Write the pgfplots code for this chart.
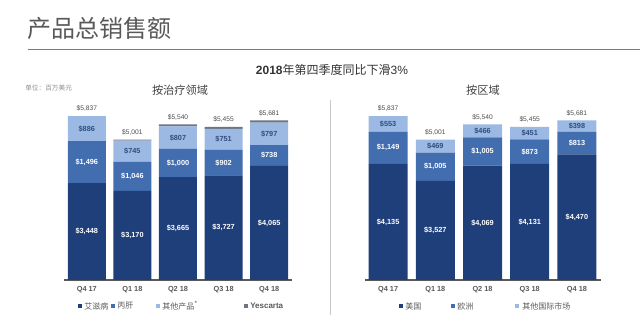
\documentclass[border=0pt]{standalone}
\usepackage{pgfplots}
\pgfplotsset{compat=1.18}
\usepackage{pgfplotstable}
\usepackage{fontspec}
\setmainfont{Liberation Sans}
\newfontfamily\cjk{Noto Sans CJK SC}
\definecolor{cdark}{HTML}{1F3F7A}
\definecolor{cmid}{HTML}{426DAF}
\definecolor{clight}{HTML}{9BB9E2}
\definecolor{cyes}{HTML}{6B7585}
\definecolor{tgray}{HTML}{595959}
\definecolor{lblue}{HTML}{2E4E82}
\definecolor{sepgray}{HTML}{C8C8C8}

\pgfplotstableread{
x aids hcv other yes
0 3448 1496 886 7
1 3170 1046 745 40
2 3665 1000 807 68
3 3727 902 751 75
4 4065 738 797 81
}\tA

\pgfplotstableread{
x us eu intl
0 4135 1149 553
1 3527 1005 469
2 4069 1005 466
3 4131 873 451
4 4470 813 398
}\tB

\pgfplotstableread{
x yd ld ym lm yl ll yt lt
0 1724 3,448 4196 1,496 5387 886 5837 5,837
1 1585 3,170 3693 1,046 4588 745 5001 5,001
2 1832 3,665 4165 1,000 5068 807 5540 5,540
3 1863 3,727 4178 902 5004 751 5455 5,455
4 2032 4,065 4434 738 5201 797 5681 5,681
}\lA

\pgfplotstableread{
x yd ld ym lm yl ll yt lt
0 2067 4,135 4709 1,149 5560 553 5837 5,837
1 1763 3,527 4029 1,005 4766 469 5001 5,001
2 2034 4,069 4571 1,005 5307 466 5540 5,540
3 2065 4,131 4567 873 5229 451 5455 5,455
4 2235 4,470 4876 813 5482 398 5681 5,681
}\lB

\pgfplotsset{
  base/.style={scale only axis, height=126.4pt, xmin=-0.5, xmax=4.5, ymin=0, ymax=6000, anchor=south west, clip=false},
  bars/.style={base, ybar stacked, axis y line=none, axis x line*=bottom,
    x axis line style={tgray, line width=0.8pt, -},
    ytick=\empty, xtick={0,1,2,3,4},
    xticklabels={Q4 17, Q1 18, Q2 18, Q3 18, Q4 18},
    major tick length=0pt,
    xticklabel style={font=\fontsize{5.5}{6}\selectfont\bfseries, text=tgray, yshift=-1pt}},
  labs/.style={base, hide axis, point meta=explicit symbolic,
    nodes near coords={\$\pgfplotspointmeta},
    every node near coord/.append style={anchor=center, font=\fontsize{5.5}{6}\selectfont\bfseries, inner sep=0pt}},
}

\begin{document}
\begin{tikzpicture}[x=0.75pt, y=0.75pt]
\useasboundingbox (0,0) rectangle (640,324);
% titles
\node[anchor=west, inner sep=0pt, text=tgray, font=\cjk\fontsize{18}{20}\selectfont] at (27,296) {产品总销售额};
\draw[tgray!80, line width=0.75pt] (28,274) -- (640,274);
\node[inner sep=0pt, text=black!80, font=\fontsize{9}{11}\selectfont] at (332,254) {\textbf{2018}{\cjk 年第四季度同比下滑}3\%};
\node[anchor=west, inner sep=0pt, text=black!45, font=\cjk\fontsize{5}{6}\selectfont] at (25,236) {单位：百万美元};
\node[inner sep=0pt, text=black!75, font=\cjk\fontsize{8.4}{10}\selectfont] at (180,234) {按治疗领域};
\node[inner sep=0pt, text=black!75, font=\cjk\fontsize{8.4}{10}\selectfont] at (483,234) {按区域};
\draw[sepgray, line width=0.6pt] (330,224) -- (330,9);

% left chart
\begin{axis}[bars, at={(48pt,33pt)}, width=171pt, bar width=28.5pt]
\addplot[fill=cdark, draw=none] table[x=x, y=aids] {\tA};
\addplot[fill=cmid, draw=none] table[x=x, y=hcv] {\tA};
\addplot[fill=clight, draw=none] table[x=x, y=other] {\tA};
\addplot[fill=cyes, draw=none] table[x=x, y=yes] {\tA};
\end{axis}
\begin{axis}[labs, at={(48pt,33pt)}, width=171pt]
\addplot[draw=none, every node near coord/.append style={text=white}] table[x=x, y=yd, meta=ld] {\lA};
\addplot[draw=none, every node near coord/.append style={text=white}] table[x=x, y=ym, meta=lm] {\lA};
\addplot[draw=none, every node near coord/.append style={text=lblue}] table[x=x, y=yl, meta=ll] {\lA};
\addplot[draw=none, every node near coord/.append style={text=black!70, anchor=south, yshift=3pt, font=\fontsize{5}{6}\selectfont}] table[x=x, y=yt, meta=lt] {\lA};
\end{axis}

% right chart
\begin{axis}[bars, at={(273.4pt,33pt)}, width=177pt, bar width=29.25pt]
\addplot[fill=cdark, draw=none] table[x=x, y=us] {\tB};
\addplot[fill=cmid, draw=none] table[x=x, y=eu] {\tB};
\addplot[fill=clight, draw=none] table[x=x, y=intl] {\tB};
\end{axis}
\begin{axis}[labs, at={(273.4pt,33pt)}, width=177pt]
\addplot[draw=none, every node near coord/.append style={text=white}] table[x=x, y=yd, meta=ld] {\lB};
\addplot[draw=none, every node near coord/.append style={text=white}] table[x=x, y=ym, meta=lm] {\lB};
\addplot[draw=none, every node near coord/.append style={text=lblue}] table[x=x, y=yl, meta=ll] {\lB};
\addplot[draw=none, every node near coord/.append style={text=black!70, anchor=south, yshift=3pt, font=\fontsize{5}{6}\selectfont}] table[x=x, y=yt, meta=lt] {\lB};
\end{axis}

% legends
\begin{scope}[every node/.style={anchor=west, inner sep=0pt, text=tgray, font=\fontsize{6}{7}\selectfont}]
\fill[cdark] (78,16) rectangle ++(4,4);  \node at (84,18) {\cjk 艾滋病};
\fill[cmid] (111,16) rectangle ++(4,4);  \node at (117,18) {\cjk 丙肝};
\fill[clight] (156,16) rectangle ++(4,4); \node at (162,18) {\cjk 其他产品\textsuperscript{*}};
\fill[cyes] (244,16) rectangle ++(4,4);  \node at (250,18) {\bfseries Yescarta};
\fill[cdark] (399,16) rectangle ++(4,4); \node at (405,18) {\cjk 美国};
\fill[cmid] (451,16) rectangle ++(4,4);  \node at (457,18) {\cjk 欧洲};
\fill[clight] (515,16) rectangle ++(4,4); \node at (522,18) {\cjk 其他国际市场};
\end{scope}
\end{tikzpicture}
\end{document}
